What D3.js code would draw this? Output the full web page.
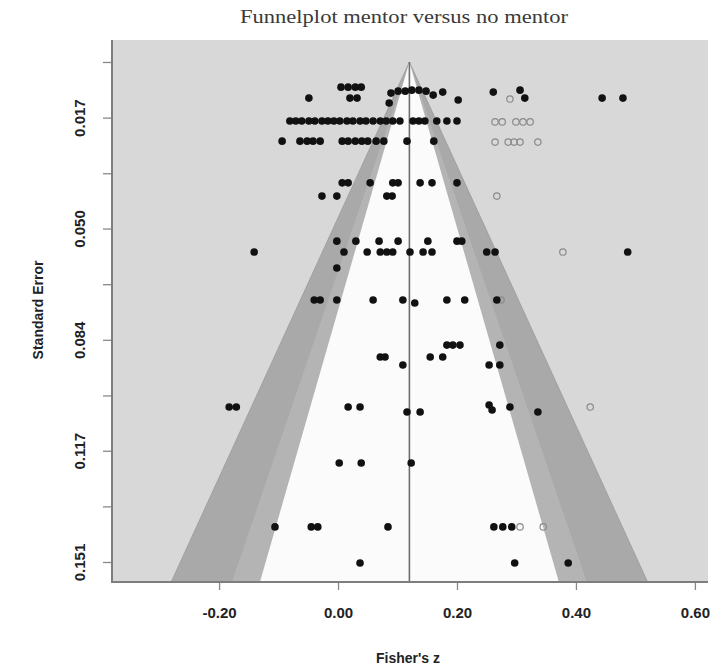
<!DOCTYPE html>
<html>
<head>
<meta charset="utf-8">
<script src="https://cdn.jsdelivr.net/npm/d3@7"></script>
<style>
	body { margin: 0; background: #fff; }
	svg { display: block; }
</style>
</head>
<body>
<div id="chart"></div>
<script>
// Observed studies: [Fisher's z, standard error]
var observed = [
	[0.005, 0.0076], [0.017, 0.0076], [0.029, 0.0076], [0.039, 0.0076],
	[0.089, 0.0094], [0.101, 0.0088], [0.113, 0.0088], [0.124, 0.0085], [0.136, 0.0085], [0.148, 0.0088],
	[0.160, 0.0100], [0.176, 0.0091], [0.261, 0.0091], [0.306, 0.0085], [0.086, 0.0124],
	[-0.049, 0.0109], [0.020, 0.0109], [0.032, 0.0109], [0.202, 0.0115], [0.314, 0.0109], [0.444, 0.0109], [0.479, 0.0109],
	[-0.081, 0.0178], [-0.071, 0.0178], [-0.061, 0.0178], [-0.049, 0.0178], [-0.039, 0.0178], [-0.027, 0.0178],
	[-0.017, 0.0178], [-0.007, 0.0178], [0.003, 0.0178], [0.015, 0.0178], [0.025, 0.0178], [0.037, 0.0178],
	[0.047, 0.0178], [0.059, 0.0178], [0.071, 0.0178], [0.081, 0.0178], [0.092, 0.0178], [0.104, 0.0178],
	[0.126, 0.0178], [0.136, 0.0178], [0.146, 0.0178], [0.166, 0.0178], [0.183, 0.0178], [0.200, 0.0178],
	[-0.094, 0.0239], [-0.064, 0.0239], [-0.052, 0.0239], [-0.042, 0.0239], [-0.030, 0.0239], [0.007, 0.0239],
	[0.017, 0.0239], [0.029, 0.0239], [0.040, 0.0239], [0.050, 0.0239], [0.064, 0.0239], [0.077, 0.0239],
	[0.116, 0.0239], [0.161, 0.0239],
	[0.007, 0.0365], [0.017, 0.0365], [0.054, 0.0365], [0.092, 0.0365], [0.101, 0.0365], [0.138, 0.0365],
	[0.158, 0.0365], [0.200, 0.0365],
	[-0.027, 0.0405], [-0.002, 0.0405], [0.082, 0.0405], [0.091, 0.0405],
	[-0.002, 0.0541], [0.030, 0.0541], [0.069, 0.0541], [0.101, 0.0541], [0.151, 0.0541], [0.200, 0.0541], [0.208, 0.0541],
	[-0.141, 0.0574], [0.010, 0.0574], [0.049, 0.0574], [0.071, 0.0574], [0.082, 0.0574], [0.092, 0.0574],
	[0.121, 0.0574], [0.143, 0.0574], [0.158, 0.0574], [0.250, 0.0574], [0.264, 0.0574], [0.487, 0.0574],
	[-0.002, 0.0622],
	[-0.040, 0.0719], [-0.030, 0.0719], [-0.002, 0.0719], [0.059, 0.0719], [0.109, 0.0719], [0.129, 0.0728],
	[0.183, 0.0719], [0.213, 0.0719], [0.267, 0.0719],
	[0.183, 0.0855], [0.193, 0.0855], [0.205, 0.0855], [0.272, 0.0855],
	[0.071, 0.0891], [0.079, 0.0891], [0.155, 0.0891], [0.176, 0.0891],
	[0.109, 0.0915], [0.254, 0.0915], [0.272, 0.0915],
	[-0.183, 0.1042], [-0.171, 0.1042], [0.017, 0.1042], [0.037, 0.1042], [0.254, 0.1036], [0.259, 0.1051], [0.289, 0.1042],
	[0.116, 0.1057], [0.138, 0.1057], [0.336, 0.1057],
	[0.002, 0.1211], [0.039, 0.1211], [0.123, 0.1211],
	[-0.106, 0.1404], [-0.045, 0.1404], [-0.034, 0.1404], [0.084, 0.1404], [0.262, 0.1404], [0.277, 0.1404], [0.292, 0.1404],
	[0.037, 0.1513], [0.297, 0.1513], [0.387, 0.1513]
];

// Studies added by trim and fill: [Fisher's z, standard error]
var imputed = [
	[0.289, 0.0112],
	[0.264, 0.0181], [0.276, 0.0181], [0.299, 0.0181], [0.311, 0.0181], [0.323, 0.0181],
	[0.264, 0.0242], [0.286, 0.0242], [0.296, 0.0242], [0.306, 0.0242], [0.336, 0.0242],
	[0.267, 0.0405], [0.378, 0.0574], [0.274, 0.0719], [0.424, 0.1042],
	[0.306, 0.1404], [0.345, 0.1404]
];

var pooledZ = 0.12;
// funnel limits as multiples of the standard error (outer, middle, inner)
var funnelLimits = [2.55, 1.9, 1.6];

var xTicks = [-0.2, 0, 0.2, 0.4, 0.6];
var xTickLabels = ["-0.20", "0.00", "0.20", "0.40", "0.60"];
var yTicks = [0, 0.0168, 0.0336, 0.0503, 0.0671, 0.0839, 0.1007, 0.1174, 0.1342, 0.151];
var yTickLabels = ["", "0.017", "", "0.050", "", "0.084", "", "0.117", "", "0.151"];

var outerwidth = 719;
var outerheight = 669;
var margin = {top: 40, right: 11, bottom: 87, left: 112};
var width = outerwidth - margin.left - margin.right;
var height = outerheight - margin.top - margin.bottom;

var svg = d3.select("#chart")
	.append("svg")
	.attr("width", outerwidth)
	.attr("height", outerheight);

var x = d3.scaleLinear().domain([-0.38, 0.622]).range([0, width]);
var y = d3.scaleLinear().domain([-0.00664, 0.15704]).range([0, height]);

var plot = svg.append("g")
	.attr("transform", "translate(" + margin.left + "," + margin.top + ")");

// Plot background
plot.append("rect")
	.attr("width", width)
	.attr("height", height)
	.style("fill", "#d8d8d8");

// Funnel bands, drawn from the widest to the narrowest
var seBottom = y.domain()[1];
var bandColors = ["#a9a9a9", "#b4b4b4", "#fbfbfb"];
plot.selectAll(".band")
	.data(funnelLimits)
	.enter().append("path")
	.attr("class", "band")
	.attr("d", function(k) {
		return d3.line()([
			[x(pooledZ), y(0)],
			[x(pooledZ - k * seBottom), y(seBottom)],
			[x(pooledZ + k * seBottom), y(seBottom)]
		]) + "Z";
	})
	.style("fill", function(d, i) { return bandColors[i]; })
	.style("stroke", function(d, i) { return i == 0 ? "#999" : "none"; })
	.style("stroke-width", 0.8);

// Vertical line at the pooled estimate
plot.append("line")
	.attr("x1", x(pooledZ))
	.attr("x2", x(pooledZ))
	.attr("y1", y(0))
	.attr("y2", height)
	.style("stroke", "#6e6e6e")
	.style("stroke-width", 1.6);

// Imputed studies (open circles)
plot.selectAll(".imputed")
	.data(imputed)
	.enter().append("circle")
	.attr("class", "imputed")
	.attr("cx", function(d) { return x(d[0]); })
	.attr("cy", function(d) { return y(d[1]); })
	.attr("r", 3.2)
	.style("fill", "none")
	.style("stroke", "#8a8a8a")
	.style("stroke-width", 1.2);

// Observed studies (filled dots)
plot.selectAll(".observed")
	.data(observed)
	.enter().append("circle")
	.attr("class", "observed")
	.attr("cx", function(d) { return x(d[0]); })
	.attr("cy", function(d) { return y(d[1]); })
	.attr("r", 3.8)
	.style("fill", "#111");

// Axes
var xAxis = plot.append("g")
	.attr("transform", "translate(0," + height + ")")
	.call(d3.axisBottom(x)
		.tickValues(xTicks)
		.tickFormat(function(d, i) { return xTickLabels[i]; })
		.tickSize(8)
		.tickPadding(17));

var yAxis = plot.append("g")
	.call(d3.axisLeft(y)
		.tickValues(yTicks)
		.tickFormat(function(d, i) { return yTickLabels[i]; })
		.tickSize(9));

[xAxis, yAxis].forEach(function(a) {
	a.select(".domain").remove();
	a.selectAll(".tick line").style("stroke", "#888").style("stroke-width", 1.3);
	a.selectAll("text")
		.style("font-family", "'Liberation Sans', Arial, sans-serif")
		.style("font-size", "15px")
		.style("font-weight", 700)
		.style("fill", "#222");
});

// rotate the y tick labels
yAxis.selectAll("text")
	.attr("transform", "rotate(-90)")
	.attr("x", 0)
	.attr("y", -27)
	.attr("dy", 0)
	.style("text-anchor", "middle");

// Frame on the left and bottom
plot.append("path")
	.attr("d", "M0,0V" + height + "H" + width)
	.style("fill", "none")
	.style("stroke", "#7d7d7d")
	.style("stroke-width", 2);

// Titles
svg.append("text")
	.attr("x", 404)
	.attr("y", 23)
	.attr("text-anchor", "middle")
	.attr("textLength", 328)
	.attr("lengthAdjust", "spacingAndGlyphs")
	.style("font-family", "'Liberation Serif', 'Times New Roman', serif")
	.style("font-size", "18px")
	.style("fill", "#3a3a3a")
	.text("Funnelplot mentor versus no mentor");

svg.append("text")
	.attr("x", 408)
	.attr("y", 663)
	.attr("text-anchor", "middle")
	.style("font-family", "'Liberation Sans', Arial, sans-serif")
	.style("font-size", "14px")
	.style("font-weight", 700)
	.style("fill", "#222")
	.text("Fisher's z");

svg.append("text")
	.attr("transform", "translate(43,310) rotate(-90)")
	.attr("text-anchor", "middle")
	.style("font-family", "'Liberation Sans', Arial, sans-serif")
	.style("font-size", "14px")
	.style("font-weight", 700)
	.style("fill", "#222")
	.text("Standard Error");
</script>
</body>
</html>
